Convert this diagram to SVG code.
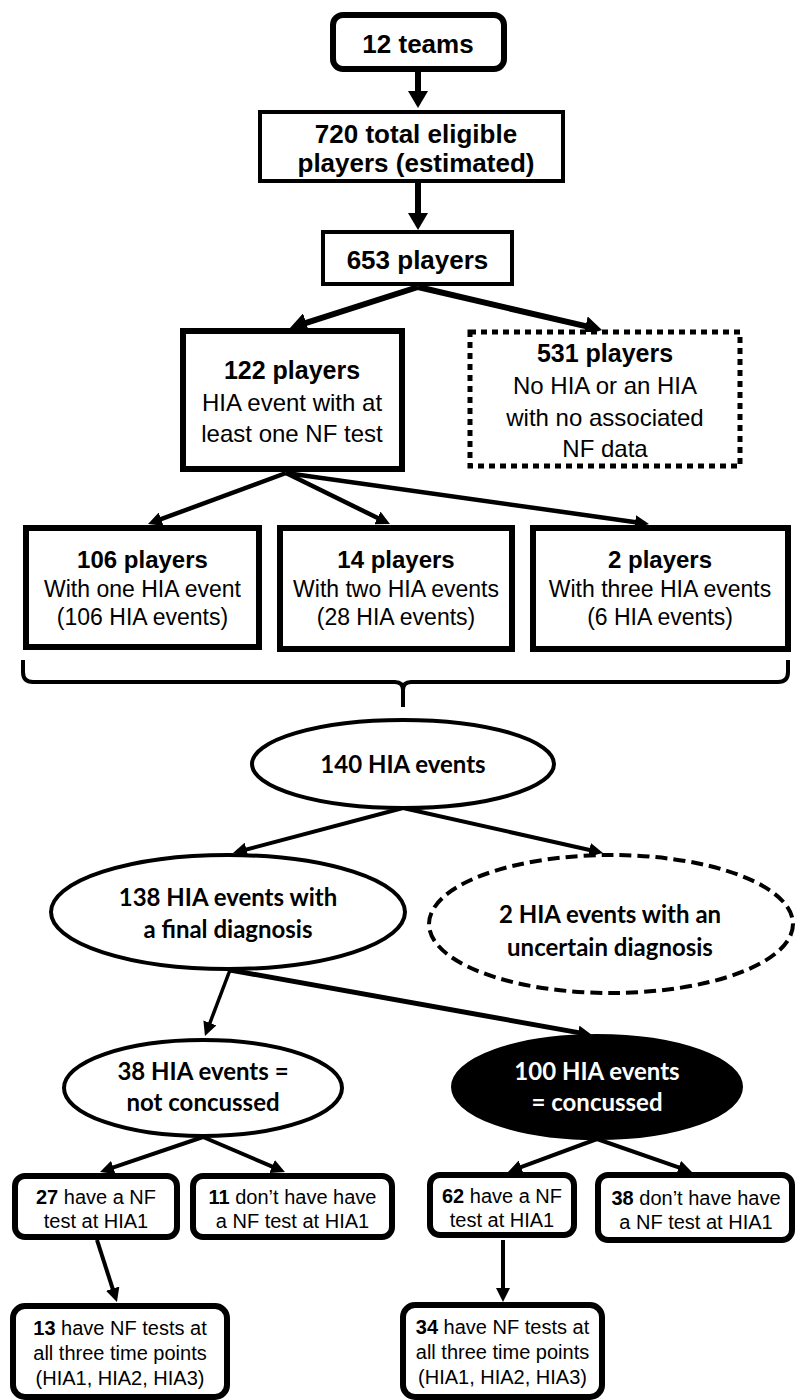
<svg xmlns="http://www.w3.org/2000/svg" width="795" height="1400" viewBox="0 0 795 1400">
<style>
.bx{fill:#fff;stroke:#000}
.t{font-family:"Liberation Sans",Arial,sans-serif;text-anchor:middle;fill:#000}
.b{font-weight:bold}
.e{font-family:Lato,"Liberation Sans",sans-serif;font-weight:bold;font-size:24px;text-anchor:middle}
.c{fill:none;stroke:#000}
</style>
<defs>
<marker id="big" markerUnits="userSpaceOnUse" markerWidth="17" markerHeight="20" refX="9" refY="10" orient="auto"><path d="M0,0 L17,10 L0,20 z" fill="#000"/></marker>
<marker id="ah" markerUnits="userSpaceOnUse" markerWidth="14" markerHeight="14" refX="6" refY="7" orient="auto"><path d="M0,0 L14,7 L0,14 z" fill="#000"/></marker>
</defs>
<rect width="795" height="1400" fill="#fff"/>

<g id="connectors">
<line class="c" stroke-width="6" x1="418" y1="72" x2="418" y2="100" marker-end="url(#big)"/>
<line class="c" stroke-width="6" x1="418" y1="183" x2="418" y2="222" marker-end="url(#big)"/>
<line class="c" stroke-width="6" x1="418" y1="287" x2="297.6" y2="325.6" marker-end="url(#big)"/>
<line class="c" stroke-width="6" x1="418" y1="287" x2="594.2" y2="328.2" marker-end="url(#big)"/>
<line class="c" stroke-width="4.5" x1="286" y1="473" x2="155.5" y2="521.2" marker-end="url(#ah)"/>
<line class="c" stroke-width="4.5" x1="286" y1="473" x2="382.8" y2="520.5" marker-end="url(#ah)"/>
<line class="c" stroke-width="4.5" x1="286" y1="473" x2="641.1" y2="522.9" marker-end="url(#ah)"/>
<path class="c" stroke-width="4" d="M23,660 L23,672 Q23,682 33,682 L395,682 Q403,682 403,690 L403,707 M403,690 Q403,682 411,682 L778,682 Q788,682 788,672 L788,660"/>
<line class="c" stroke-width="4" x1="403" y1="808" x2="240.7" y2="851" marker-end="url(#ah)"/>
<line class="c" stroke-width="4" x1="403" y1="808" x2="595.2" y2="851.2" marker-end="url(#ah)"/>
<line class="c" stroke-width="3.5" x1="230" y1="970" x2="207.8" y2="1028.5" marker-end="url(#ah)"/>
<line class="c" stroke-width="5" x1="230" y1="970" x2="584.1" y2="1033.6" marker-end="url(#ah)"/>
<line class="c" stroke-width="4" x1="203" y1="1137" x2="107.6" y2="1169.4" marker-end="url(#ah)"/>
<line class="c" stroke-width="4" x1="203" y1="1137" x2="277.6" y2="1168.9" marker-end="url(#ah)"/>
<line class="c" stroke-width="4" x1="597" y1="1139" x2="515.5" y2="1169.2" marker-end="url(#ah)"/>
<line class="c" stroke-width="4" x1="597" y1="1139" x2="684.4" y2="1169.4" marker-end="url(#ah)"/>
<line class="c" stroke-width="4" x1="97" y1="1240" x2="114.5" y2="1294.4" marker-end="url(#ah)"/>
<line class="c" stroke-width="4" x1="503" y1="1240" x2="503" y2="1294" marker-end="url(#ah)"/>
</g>

<g id="n12teams">
<rect class="bx" x="333" y="15" width="171" height="54" rx="10" stroke-width="6"/>
<text class="t b" x="418" y="53" font-size="26">12 teams</text>
</g>
<g id="n720">
<rect class="bx" x="260" y="112" width="303" height="69" stroke-width="4"/>
<text class="t b" x="416" y="143" font-size="26">720 total eligible</text>
<text class="t b" x="416" y="172" font-size="26">players (estimated)</text>
</g>
<g id="n653">
<rect class="bx" x="323" y="232" width="189" height="52" stroke-width="4"/>
<text class="t b" x="417.5" y="269" font-size="26">653 players</text>
</g>
<g id="n122">
<rect class="bx" x="183" y="331" width="219" height="138" stroke-width="6"/>
<text class="t b" x="292" y="379" font-size="25">122 players</text>
<text class="t" x="292" y="411" font-size="24">HIA event with at</text>
<text class="t" x="292" y="442" font-size="24">least one NF test</text>
</g>
<g id="n531">
<rect class="bx" x="470" y="332" width="270" height="134" stroke-width="5" stroke-dasharray="6 5"/>
<text class="t b" x="605" y="362" font-size="25">531 players</text>
<text class="t" x="605" y="394" font-size="24">No HIA or an HIA</text>
<text class="t" x="605" y="426" font-size="24">with no associated</text>
<text class="t" x="605" y="457" font-size="24">NF data</text>
</g>
<g id="n106">
<rect class="bx" x="26" y="528" width="233" height="119" stroke-width="6"/>
<text class="t b" x="142.5" y="568" font-size="24">106 players</text>
<text class="t" x="142.5" y="597" font-size="23">With one HIA event</text>
<text class="t" x="142.5" y="625" font-size="23">(106 HIA events)</text>
</g>
<g id="n14">
<rect class="bx" x="280" y="528" width="232" height="121" stroke-width="6"/>
<text class="t b" x="396" y="568" font-size="24">14 players</text>
<text class="t" x="396" y="597" font-size="23">With two HIA events</text>
<text class="t" x="396" y="625" font-size="23">(28 HIA events)</text>
</g>
<g id="n2">
<rect class="bx" x="533" y="528" width="255" height="121" stroke-width="6"/>
<text class="t b" x="660" y="568" font-size="24">2 players</text>
<text class="t" x="660" y="597" font-size="23">With three HIA events</text>
<text class="t" x="660" y="625" font-size="23">(6 HIA events)</text>
</g>
<g id="e140">
<ellipse class="bx" cx="403" cy="764" rx="151" ry="44" stroke-width="4"/>
<text class="e" x="403" y="773">140 HIA events</text>
</g>
<g id="e138">
<ellipse class="bx" cx="228" cy="912" rx="177" ry="57" stroke-width="4"/>
<text class="e" x="228" y="906">138 HIA events with</text>
<text class="e" x="228" y="938">a final diagnosis</text>
</g>
<g id="e2">
<ellipse class="bx" cx="611" cy="924" rx="182" ry="69" stroke-width="4" stroke-dasharray="12 6"/>
<text class="e" x="610" y="923">2 HIA events with an</text>
<text class="e" x="610" y="956">uncertain diagnosis</text>
</g>
<g id="e38">
<ellipse class="bx" cx="203" cy="1088" rx="139" ry="48" stroke-width="4"/>
<text class="e" x="203" y="1080">38 HIA events =</text>
<text class="e" x="203" y="1111">not concussed</text>
</g>
<g id="e100">
<ellipse cx="597" cy="1087" rx="145" ry="52" fill="#000" stroke="#000" stroke-width="2"/>
<text class="e" x="597" y="1080" fill="#fff">100 HIA events</text>
<text class="e" x="597" y="1111" fill="#fff">= concussed</text>
</g>
<g id="n27">
<rect class="bx" x="15" y="1176" width="162" height="61" rx="10" stroke-width="6"/>
<text class="t" x="96" y="1204" font-size="20"><tspan font-weight="bold">27</tspan> have a NF</text>
<text class="t" x="96" y="1228" font-size="20">test at HIA1</text>
</g>
<g id="n11">
<rect class="bx" x="193" y="1176" width="199" height="61" rx="10" stroke-width="6"/>
<text class="t" x="292.5" y="1204" font-size="20"><tspan font-weight="bold">11</tspan> don’t have have</text>
<text class="t" x="292.5" y="1228" font-size="20">a NF test at HIA1</text>
</g>
<g id="n62">
<rect class="bx" x="430" y="1175" width="144" height="60" rx="10" stroke-width="6"/>
<text class="t" x="502" y="1203" font-size="20"><tspan font-weight="bold">62</tspan> have a NF</text>
<text class="t" x="502" y="1227" font-size="20">test at HIA1</text>
</g>
<g id="n38">
<rect class="bx" x="598" y="1175" width="194" height="65" rx="10" stroke-width="6"/>
<text class="t" x="696" y="1205" font-size="20"><tspan font-weight="bold">38</tspan> don’t have have</text>
<text class="t" x="696" y="1229" font-size="20">a NF test at HIA1</text>
</g>
<g id="n13">
<rect class="bx" x="13" y="1306" width="214" height="91" rx="12" stroke-width="6"/>
<text class="t" x="120" y="1335" font-size="20"><tspan font-weight="bold">13</tspan> have NF tests at</text>
<text class="t" x="120" y="1360" font-size="20">all three time points</text>
<text class="t" x="120" y="1385" font-size="20">(HIA1, HIA2, HIA3)</text>
</g>
<g id="n34">
<rect class="bx" x="403" y="1305" width="199" height="92" rx="12" stroke-width="6"/>
<text class="t" x="502.5" y="1334" font-size="20"><tspan font-weight="bold">34</tspan> have NF tests at</text>
<text class="t" x="502.5" y="1359" font-size="20">all three time points</text>
<text class="t" x="502.5" y="1384" font-size="20">(HIA1, HIA2, HIA3)</text>
</g>
</svg>
